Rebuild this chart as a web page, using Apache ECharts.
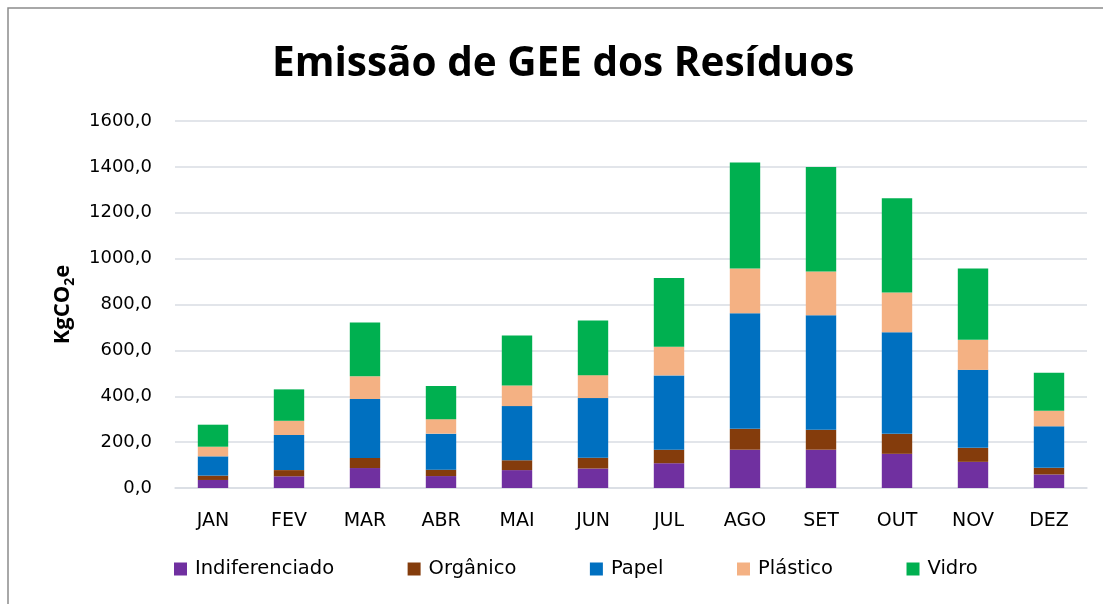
<!DOCTYPE html>
<html>
<head>
<meta charset="utf-8">
<script src="https://cdn.jsdelivr.net/npm/echarts@6/dist/echarts.min.js"></script>
<style>
  html, body { margin: 0; padding: 0; background: #fff; }
  #chart { width: 1103px; height: 604px; }
</style>
</head>
<body>
<div id="chart"></div>
<script>
// meses
const months = ['JAN', 'FEV', 'MAR', 'ABR', 'MAI', 'JUN', 'JUL', 'AGO', 'SET', 'OUT', 'NOV', 'DEZ']

// emissões por tipo de resíduo (KgCO2e)
const indiferenciado = [35, 51, 87, 52, 78, 85, 108, 167, 167, 149, 114, 59]
const organico = [19, 27, 44, 28, 43, 47, 59, 91, 87, 87, 61, 29]
const papel = [84, 153, 257, 157, 236, 260, 324, 504, 499, 443, 340, 181]
const plastico = [42, 62, 99, 63, 90, 100, 125, 195, 191, 173, 131, 68]
const vidro = [96, 137, 235, 145, 218, 238, 299, 462, 456, 411, 311, 165]

const seriesList = [
  { name: 'Indiferenciado', data: indiferenciado, color: '#7030A0' },
  { name: 'Orgânico', data: organico, color: '#843C0C' },
  { name: 'Papel', data: papel, color: '#0070C0' },
  { name: 'Plástico', data: plastico, color: '#F4B183' },
  { name: 'Vidro', data: vidro, color: '#00B050' }
]

const font = 'DejaVu Sans'
const titleFont = 'Open Sans'

const chart = echarts.init(document.getElementById('chart'))

chart.setOption({
  animation: false,
  backgroundColor: '#fff',
  textStyle: { fontFamily: font },
  title: {
    text: 'Emissão de GEE dos Resíduos',
    left: 267,
    top: 39,
    textStyle: { fontSize: 40.5, fontWeight: 'bold', color: '#000', fontFamily: titleFont }
  },
  graphic: [
    {
      type: 'rect',
      shape: { x: 8, y: 8, width: 1120, height: 620 },
      style: { fill: 'none', stroke: '#8c8c8c', lineWidth: 1.5 },
      silent: true
    }
  ],
  legend: {
    bottom: 20,
    left: 169,
    itemGap: 73.5,
    itemWidth: 13,
    itemHeight: 13,
    icon: 'rect',
    textStyle: { fontSize: 19.5, color: '#000', fontFamily: font, padding: [0, 0, 0, 3] },
    data: seriesList.map((s) => s.name)
  },
  grid: { left: 175, right: 16, top: 121, bottom: 116 },
  xAxis: {
    type: 'category',
    data: months,
    axisTick: { show: false },
    axisLine: { lineStyle: { color: '#d9dde3', width: 1.5 } },
    axisLabel: { color: '#000', fontSize: 19, margin: 24, fontFamily: font }
  },
  yAxis: {
    type: 'value',
    min: 0,
    max: 1600,
    interval: 200,
    name: '{a|KgCO}{b|2}{a|e}',
    nameLocation: 'middle',
    nameGap: 98,
    nameRotate: 90,
    nameTextStyle: {
      rich: {
        a: { fontSize: 22, fontWeight: 'bold', color: '#000', fontFamily: titleFont, lineHeight: 28 },
        b: { fontSize: 14, fontWeight: 'bold', color: '#000', fontFamily: titleFont, verticalAlign: 'bottom', lineHeight: 28, padding: [10, 0, 0, 0] }
      }
    },
    axisLabel: {
      color: '#000',
      fontSize: 18,
      margin: 23,
      fontFamily: font,
      formatter: (v) => v.toFixed(1).replace('.', ',')
    },
    splitLine: { lineStyle: { color: '#d9dde3', width: 1.5 } }
  },
  series: seriesList.map((s) => ({
    name: s.name,
    type: 'bar',
    stack: 'total',
    barWidth: '40%',
    data: s.data,
    itemStyle: { color: s.color }
  }))
})
</script>
</body>
</html>
